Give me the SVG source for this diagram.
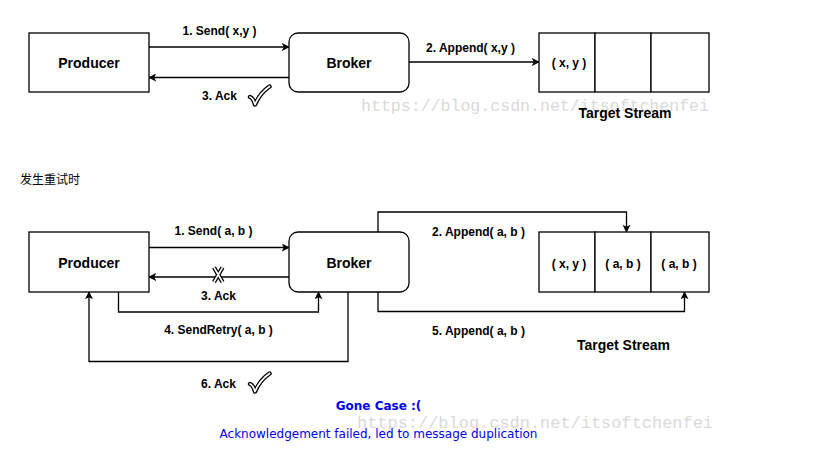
<svg xmlns="http://www.w3.org/2000/svg" width="815" height="450" viewBox="0 0 815 450">
<defs>
<marker id="arr" viewBox="0 0 10 10" refX="9" refY="5" markerWidth="8" markerHeight="8" markerUnits="userSpaceOnUse" orient="auto">
<path d="M0,0 L10,5 L0,10 L2.5,5 Z" fill="#000"/>
</marker>
<style>
.box{fill:#fff;stroke:#000;stroke-width:1.3}
.ln{fill:none;stroke:#000;stroke-width:1.3}
.t{font-family:"Liberation Sans",Arial,sans-serif;font-weight:bold;fill:#000;text-anchor:middle}
.n{font-size:14px}
.l{font-size:12px}
.c{font-size:12px}
.wm{font-family:"Liberation Mono","Courier New",monospace;font-size:17px;fill:#dadada}
.blue{font-family:"DejaVu Sans",Verdana,sans-serif;font-size:12px;fill:#0000ee}
.cn{font-family:"Noto Sans CJK SC",sans-serif;font-size:12px;fill:#000}
.ckb{fill:none;stroke:#000;stroke-width:4.4;stroke-linecap:round;stroke-linejoin:round}
.ckw{fill:none;stroke:#fff;stroke-width:1.8;stroke-linecap:round;stroke-linejoin:round}
</style>
</defs>
<rect width="815" height="450" fill="#fff"/>

<g id="connectors">
<line class="ln" x1="149" y1="47" x2="289" y2="47" marker-end="url(#arr)"/>
<line class="ln" x1="289" y1="77.5" x2="149" y2="77.5" marker-end="url(#arr)"/>
<line class="ln" x1="409" y1="62" x2="539" y2="62" marker-end="url(#arr)"/>

<line class="ln" x1="149" y1="247.5" x2="289" y2="247.5" marker-end="url(#arr)"/>
<line class="ln" x1="289" y1="277" x2="149" y2="277" marker-end="url(#arr)"/>
<polyline class="ln" points="378,232 378,212 626.5,212 626.5,232" marker-end="url(#arr)"/>
<polyline class="ln" points="378,292 378,311.5 684.5,311.5 684.5,292" marker-end="url(#arr)"/>
<polyline class="ln" points="118.5,292 118.5,312 318.5,312 318.5,292" marker-end="url(#arr)"/>
<polyline class="ln" points="348,292 348,361.5 89,361.5 89,292" marker-end="url(#arr)"/>
</g>

<g id="producer1">
<rect class="box" x="29" y="33" width="120" height="59"/>
<text class="t n" x="89" y="67.5">Producer</text>
</g>
<g id="broker1">
<rect class="box" x="289" y="33" width="120" height="59" rx="9"/>
<text class="t n" x="349" y="67.5">Broker</text>
</g>
<g id="stream1">
<rect class="box" x="539" y="33" width="56" height="59"/>
<rect class="box" x="595" y="33" width="56" height="59"/>
<rect class="box" x="651" y="33" width="58" height="59"/>
<text class="t c" x="569" y="67">( x, y )</text>
</g>

<g id="labels1">
<text class="t l" x="219.5" y="35">1. Send( x,y )</text>
<text class="t l" x="219.5" y="100">3. Ack</text>
<text class="t l" x="470.5" y="52">2. Append( x,y )</text>
<g id="check1">
<path class="ckb" d="M250,97 Q253,98 255,104.5 Q260,93 269.5,86.5"/>
<path class="ckw" d="M250,97 Q253,98 255,104.5 Q260,93 269.5,86.5"/>
</g>
</g>

<text class="wm" x="361" y="111" textLength="348" lengthAdjust="spacingAndGlyphs">https://blog.csdn.net/itsoftchenfei</text>
<text class="t n" x="625" y="118">Target Stream</text>

<text class="cn" x="20" y="184">发生重试时</text>

<g id="producer2">
<rect class="box" x="29" y="232" width="120" height="60"/>
<text class="t n" x="89" y="267.5">Producer</text>
</g>
<g id="broker2">
<rect class="box" x="289" y="232" width="120" height="60" rx="9"/>
<text class="t n" x="349" y="267.5">Broker</text>
</g>
<g id="stream2">
<rect class="box" x="539" y="232" width="56" height="60"/>
<rect class="box" x="595" y="232" width="56" height="60"/>
<rect class="box" x="651" y="232" width="58" height="60"/>
<text class="t c" x="569" y="268">( x, y )</text>
<text class="t c" x="623" y="268">( a, b )</text>
<text class="t c" x="679" y="268">( a, b )</text>
<text class="t n" x="623.5" y="350">Target Stream</text>
</g>

<g id="labels2">
<text class="t l" x="213.5" y="235">1. Send( a, b )</text>
<g id="xmark">
<path d="M214,267.5 L222.5,282 M222.5,267.5 L214,282" fill="none" stroke="#000" stroke-width="4.4"/>
<path d="M214,267.5 L222.5,282 M222.5,267.5 L214,282" fill="none" stroke="#fff" stroke-width="1.6"/>
</g>
<text class="t l" x="218.5" y="300">3. Ack</text>
<text class="t l" x="478.5" y="236">2. Append( a, b )</text>
<text class="t l" x="478.5" y="335">5. Append( a, b )</text>
<text class="t l" x="218.5" y="334">4. SendRetry( a, b )</text>
<text class="t l" x="218.5" y="388">6. Ack</text>
<g id="check2">
<path class="ckb" d="M250,384 Q253,385 255,391.5 Q260,380 269.5,373.5"/>
<path class="ckw" d="M250,384 Q253,385 255,391.5 Q260,380 269.5,373.5"/>
</g>
</g>

<text class="blue" x="378.5" y="410" text-anchor="middle" font-weight="bold">Gone Case :(</text>
<text class="wm" x="357" y="428" textLength="356" lengthAdjust="spacingAndGlyphs">https://blog.csdn.net/itsoftchenfei</text>
<text class="blue" x="378.5" y="438" text-anchor="middle">Acknowledgement failed, led to message duplication</text>
</svg>
